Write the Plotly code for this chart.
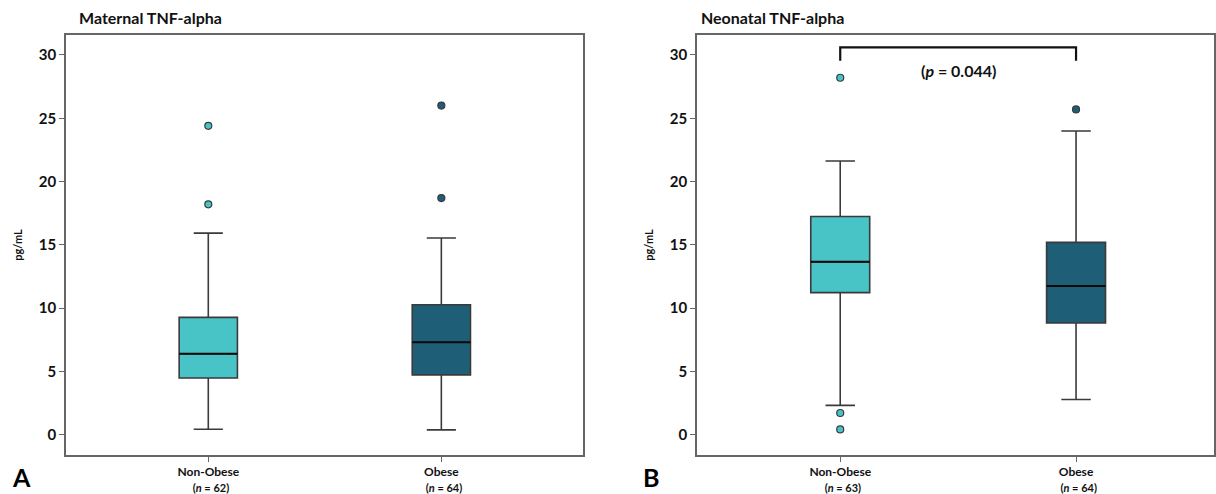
import plotly.graph_objects as go

# ---- data ----
groups = ["Non-Obese", "Obese"]
n_maternal = [62, 64]
n_neonatal = [63, 64]

mat_q1 = [4.49, 4.73]
mat_median = [6.40, 7.31]
mat_q3 = [9.27, 10.27]
mat_low = [0.44, 0.39]
mat_high = [15.93, 15.54]
mat_out_nonobese = [18.2, 24.4]
mat_out_obese = [18.7, 26.0]

neo_q1 = [11.23, 8.83]
neo_median = [13.66, 11.76]
neo_q3 = [17.24, 15.20]
neo_low = [2.32, 2.79]
neo_high = [21.63, 24.0]
neo_out_nonobese = [0.42, 1.72, 28.2]
neo_out_obese = [25.7]

p_text = "(<i>p</i> = 0.044)"

colors = ["#48C3C6", "#1E5E76"]
line_col = "#3a3a3a"
frame_col = "#666666"
FONT = "Lato"
BOX_W = 0.25

W, H = 1216, 494
fig = go.Figure()

def add_panel(q1, med, q3, lo, hi, outs, xa, ya):
    for i in range(2):
        fig.add_trace(go.Box(
            x=[i], q1=[q1[i]], median=[med[i]], q3=[q3[i]],
            lowerfence=[lo[i]], upperfence=[hi[i]],
            fillcolor=colors[i], line=dict(color=line_col, width=1.6),
            width=BOX_W, whiskerwidth=0.5, boxpoints=False,
            showlegend=False, xaxis=xa, yaxis=ya, hoverinfo="skip"))
        # darker median line as in the reference
        fig.add_trace(go.Scatter(
            x=[i - BOX_W / 2, i + BOX_W / 2], y=[med[i], med[i]], mode="lines",
            line=dict(color="#0a0a0a", width=2), showlegend=False,
            xaxis=xa, yaxis=ya, hoverinfo="skip"))
        fig.add_trace(go.Scatter(
            x=[i] * len(outs[i]), y=outs[i], mode="markers",
            marker=dict(color=colors[i], size=7, line=dict(color=line_col, width=1.2)),
            showlegend=False, xaxis=xa, yaxis=ya, hoverinfo="skip"))

add_panel(mat_q1, mat_median, mat_q3, mat_low, mat_high,
          [mat_out_nonobese, mat_out_obese], "x", "y")
add_panel(neo_q1, neo_median, neo_q3, neo_low, neo_high,
          [neo_out_nonobese, neo_out_obese], "x2", "y2")

# significance bracket (data coords)
fig.add_trace(go.Scatter(
    x=[0, 0, 1, 1], y=[29.55, 30.6, 30.6, 29.55], mode="lines",
    line=dict(color="#111111", width=2.2), showlegend=False,
    xaxis="x2", yaxis="y2", hoverinfo="skip"))
fig.add_annotation(x=0.5, y=28.8, xref="x2", yref="y2", text="<b>" + p_text + "</b>",
                   showarrow=False, font=dict(family=FONT, size=16, color="#111111"))

def ticktext(ns):
    return [f"<b>{g}</b><br><span style='font-size:11px'><b>&#160;&#160;(<i>n</i> = {n})</b></span>"
            for g, n in zip(groups, ns)]

yrange = [-1.62, 31.6]
ydom = [(H - 459) / H, (H - 35) / H]
common_x = dict(range=[-0.611, 1.608], showgrid=False, zeroline=False,
                showline=True, mirror=True, linecolor=frame_col, linewidth=1.5,
                ticks="outside", ticklen=5, tickcolor=frame_col, tickvals=[0, 1],
                tickfont=dict(family=FONT, size=12, color="#111111"))
common_y = dict(range=yrange, domain=ydom, showgrid=False, zeroline=False,
                showline=True, mirror=True, linecolor=frame_col, linewidth=1.5,
                ticks="outside", ticklen=5, tickcolor=frame_col,
                tickvals=[0, 5, 10, 15, 20, 25, 30],
                tickfont=dict(family=FONT, size=15, color="#111111", weight="bold"),
                title=dict(text="<b>pg/mL</b>", font=dict(family=FONT, size=11, color="#111111"),
                           standoff=14))

fig.update_layout(
    width=W, height=H, margin=dict(l=0, r=0, t=0, b=0),
    paper_bgcolor="white", plot_bgcolor="white",
    xaxis=dict(domain=[66 / W, 584 / W], ticktext=ticktext(n_maternal), **common_x),
    xaxis2=dict(domain=[698 / W, 1.0], anchor="y2", ticktext=ticktext(n_neonatal),
                **{**common_x, "range": [-0.608, 1.585]}),
    yaxis=dict(anchor="x", **common_y),
    yaxis2=dict(anchor="x2", **common_y),
)

fig.add_annotation(x=77 / W, y=(H - 18) / H, xref="paper", yref="paper",
                   text="<b>Maternal TNF-alpha</b>", showarrow=False, xanchor="left",
                   yanchor="middle", font=dict(family=FONT, size=16, color="#111111"))
fig.add_annotation(x=700 / W, y=(H - 18) / H, xref="paper", yref="paper",
                   text="<b>Neonatal TNF-alpha</b>", showarrow=False, xanchor="left",
                   yanchor="middle", font=dict(family=FONT, size=16, color="#111111"))
fig.add_annotation(x=10 / W, y=(H - 481) / H, xref="paper", yref="paper",
                   text="<b>A</b>", showarrow=False, xanchor="left", yanchor="middle",
                   font=dict(family=FONT, size=25, color="#000000"))
fig.add_annotation(x=642 / W, y=(H - 481) / H, xref="paper", yref="paper",
                   text="<b>B</b>", showarrow=False, xanchor="left", yanchor="middle",
                   font=dict(family=FONT, size=25, color="#000000"))

fig.write_html("out.html", config={"displayModeBar": False},
               post_script="document.body.style.margin='0';document.body.style.overflow='hidden';")
